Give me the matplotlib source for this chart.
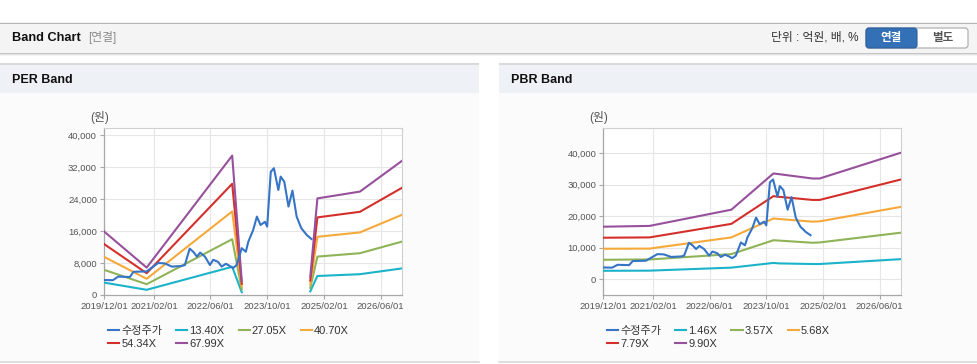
import numpy as np
import pandas as pd
import matplotlib
matplotlib.use('Agg')
import matplotlib.pyplot as plt
from matplotlib.patches import Rectangle, FancyBboxPatch
from matplotlib.lines import Line2D
from matplotlib.transforms import IdentityTransform
from matplotlib.ticker import FuncFormatter

W, H = 978, 364
FONT = ['Liberation Sans', 'Noto Sans CJK KR', 'DejaVu Sans']
plt.rcParams['font.family'] = FONT

# ---------------- data ----------------
price_dates = ['2019-12-01', '2020-02-15', '2020-04-01', '2020-07-10', '2020-08-10', '2020-12-01',
               '2021-03-10', '2021-05-05', '2021-07-05', '2021-09-28', '2021-10-25', '2021-12-05',
               '2022-01-05', '2022-02-05', '2022-03-05', '2022-04-15', '2022-05-28', '2022-06-25',
               '2022-08-05', '2022-09-05', '2022-10-12', '2022-11-15', '2022-12-12', '2023-01-12',
               '2023-02-25', '2023-04-01', '2023-04-22', '2023-06-03', '2023-07-05', '2023-08-05',
               '2023-09-12', '2023-10-01', '2023-11-01', '2023-11-28', '2024-01-05', '2024-01-25',
               '2024-02-25', '2024-04-01', '2024-05-05', '2024-06-10', '2024-07-20', '2024-09-05',
               '2024-10-15']
price_vals = [3750, 3700, 4600, 4500, 5800, 5900,
              8000, 7900, 7100, 7250, 7500, 11600,
              10800, 9600, 10600, 9600, 7500, 8800,
              8300, 7100, 7800, 7250, 6700, 7500,
              11700, 10800, 13300, 16250, 19600, 17500,
              18300, 17100, 30800, 31700, 26250, 29600,
              28300, 22100, 26100, 19600, 16700, 15000,
              14000]

per_dates = ['2019-12-01', '2020-12-01', '2022-12-05', '2023-02-25', '2023-12-01',
             '2024-10-05', '2024-12-05', '2025-12-05', '2026-12-01']
per_labels = ['13.40X', '27.05X', '40.70X', '54.34X', '67.99X']
per_band1 = [3100, 1300, 7050, 700, np.nan, 900, 4750, 5200, 6650]
per_band2 = [6300, 2700, 13950, 1400, np.nan, 1800, 9600, 10450, 13350]
per_band3 = [9550, 4050, 20900, 2100, np.nan, 2700, 14550, 15650, 20050]
per_band4 = [12750, 5450, 27800, 2800, np.nan, 3600, 19400, 20800, 26800]
per_band5 = [15900, 6850, 34850, 3500, np.nan, 4550, 24150, 25850, 33550]

pbr_dates = ['2019-12-01', '2021-01-01', '2022-12-05', '2023-12-01', '2024-01-15',
             '2024-11-01', '2025-01-01', '2026-12-01']
pbr_labels = ['1.46X', '3.57X', '5.68X', '7.79X', '9.90X']
pbr_band1 = [2700, 2750, 3700, 5200, 5050, 4850, 4850, 6400]
pbr_band2 = [6200, 6300, 8000, 12400, 12300, 11600, 11700, 14800]
pbr_band3 = [9700, 9750, 13300, 19300, 19150, 18300, 18400, 23000]
pbr_band4 = [13200, 13300, 17600, 26400, 26200, 25200, 25200, 31700]
pbr_band5 = [16700, 16950, 22100, 33600, 33400, 32000, 32000, 40200]

price_label = '수정주가'
tick_dates = ['2019-12-01', '2021-02-01', '2022-06-01', '2023-10-01', '2025-02-01', '2026-06-01']
tick_labels = ['2019/12/01', '2021/02/01', '2022/06/01', '2023/10/01', '2025/02/01', '2026/06/01']

colors = ['#1bb3c9', '#8fb356', '#f6a93b', '#d3302b', '#97509c']
price_color = '#3574c6'

# ---------------- figure ----------------
fig = plt.figure(figsize=(W / 100, H / 100), dpi=100)
fig.patch.set_facecolor('white')
ID = IdentityTransform()


def rect(x0, y0, x1, y1, fc, ec='none', lw=0, z=-5):
    fig.patches.append(Rectangle((x0, H - y1), x1 - x0, y1 - y0, transform=ID,
                                 facecolor=fc, edgecolor=ec, lw=lw, zorder=z))


def hline(y, x0, x1, color, lw=1.0):
    fig.add_artist(Line2D([x0, x1], [H - y, H - y], transform=ID, color=color, lw=lw * 0.72,
                          zorder=-4))


def text(x, y, s, **kw):
    fig.text(x / W, 1 - y / H, s, **kw)


# header bar
rect(0, 22, W, 53, '#f4f4f4')
hline(22.5, 0, W, '#b4b4b4')
hline(53, 0, W, '#c4c4c4')
hline(54, 0, W, '#e4e4e4')
hline(55, 0, W, '#f2f2f2')
text(12, 38, 'Band Chart', fontsize=9.2, fontweight='bold', color='#111111', va='center', ha='left')
text(88, 38, '[연결]', fontsize=8.5, color='#8a8a8a', va='center', ha='left')
text(771, 38, '단위 : 억원, 배, %', fontsize=8.5, color='#333333', va='center', ha='left')
fig.patches.append(FancyBboxPatch((866, H - 48), 102, 20, boxstyle='round,pad=0,rounding_size=3',
                                  transform=ID, facecolor='white', edgecolor='#a8a8a8', lw=0.8))
fig.patches.append(FancyBboxPatch((866, H - 48), 51, 20, boxstyle='round,pad=0,rounding_size=3',
                                  transform=ID, facecolor='#3470b6', edgecolor='#2b5f9e', lw=0.8))
text(891.5, 38, '연결', fontsize=8.3, fontweight='bold', color='white', va='center', ha='center')
text(942.5, 38, '별도', fontsize=8.3, fontweight='bold', color='#555555', va='center', ha='center')

# panels
for (px0, px1, title) in [(0, 479, 'PER Band'), (499, W, 'PBR Band')]:
    rect(px0, 63, px1, 65, '#d9d9d9')
    rect(px0, 65, px1, 93, '#eef2f7')
    rect(px0, 93, px1, 361, '#fbfbfb')
    hline(361.5, px0, px1, '#d4d4d4', lw=1.5)
    text(px0 + 12, 80, title, fontsize=9, fontweight='bold', color='#111111', va='center', ha='left')


def make_axes(left, right, top, bottom):
    ax = fig.add_axes([left / W, 1 - bottom / H, (right - left) / W, (bottom - top) / H])
    ax.set_zorder(2)
    return ax


def style(ax, ylim, yticks):
    ax.set_facecolor('white')
    ax.set_xlim(pd.Timestamp('2019-12-01'), pd.Timestamp('2026-12-01'))
    ax.set_ylim(*ylim)
    ax.set_xticks(pd.to_datetime(tick_dates))
    ax.set_xticklabels(tick_labels)
    ax.set_yticks(yticks)
    ax.yaxis.set_major_formatter(FuncFormatter(lambda v, p: f'{int(v):,}'))
    ax.grid(True, color='#e6e6e6', lw=0.8)
    ax.set_axisbelow(True)
    for s in ['top', 'right']:
        ax.spines[s].set_color('#d0d0d0')
        ax.spines[s].set_linewidth(0.8)
    for s in ['left', 'bottom']:
        ax.spines[s].set_color('#a8a8a8')
        ax.spines[s].set_linewidth(0.9)
    ax.tick_params(axis='both', length=3, width=0.8, color='#a8a8a8', labelsize=6.8,
                   labelcolor='#555555', pad=2)


def draw(ax, dates, bands):
    d = pd.to_datetime(dates)
    hp, = ax.plot(pd.to_datetime(price_dates), price_vals, color=price_color, lw=1.5, zorder=6)
    hs = []
    for vals, c in zip(bands, colors):
        h, = ax.plot(d, vals, color=c, lw=1.5, zorder=4)
        hs.append(h)
    return hp, hs


# PER
ax1 = make_axes(104, 402, 128, 295)
style(ax1, (0, 41750), [0, 8000, 16000, 24000, 32000, 40000])
hp1, hs1 = draw(ax1, per_dates, [per_band1, per_band2, per_band3, per_band4, per_band5])
text(100, 118, '(원)', fontsize=8.5, color='#555555', va='center', ha='center')

# PBR
ax2 = make_axes(603.3, 901, 128.3, 295.3)
style(ax2, (-5080, 47940), [0, 10000, 20000, 30000, 40000])
hp2, hs2 = draw(ax2, pbr_dates, [pbr_band1, pbr_band2, pbr_band3, pbr_band4, pbr_band5])
text(598.5, 118, '(원)', fontsize=8.5, color='#555555', va='center', ha='center')


def legend(hp, hs, labels, x, y):
    order_h = [hp, hs[3], hs[0], hs[4], hs[1], hs[2]]
    order_l = [price_label, labels[3], labels[0], labels[4], labels[1], labels[2]]
    lg = fig.legend(order_h, order_l, loc='upper left', bbox_to_anchor=(x / W, 1 - y / H),
                    bbox_transform=fig.transFigure, ncol=4, frameon=False,
                    handlelength=1.0, handletextpad=0.2, columnspacing=1.25, labelspacing=0.3,
                    borderpad=0, borderaxespad=0, prop={'family': FONT, 'size': 8})
    lg.set_zorder(3)
    for t in lg.get_texts():
        t.set_color('#333333')


legend(hp1, hs1, per_labels, 108, 326)
legend(hp2, hs2, pbr_labels, 607, 326)

fig.savefig('out.png', dpi=100, facecolor='white')
